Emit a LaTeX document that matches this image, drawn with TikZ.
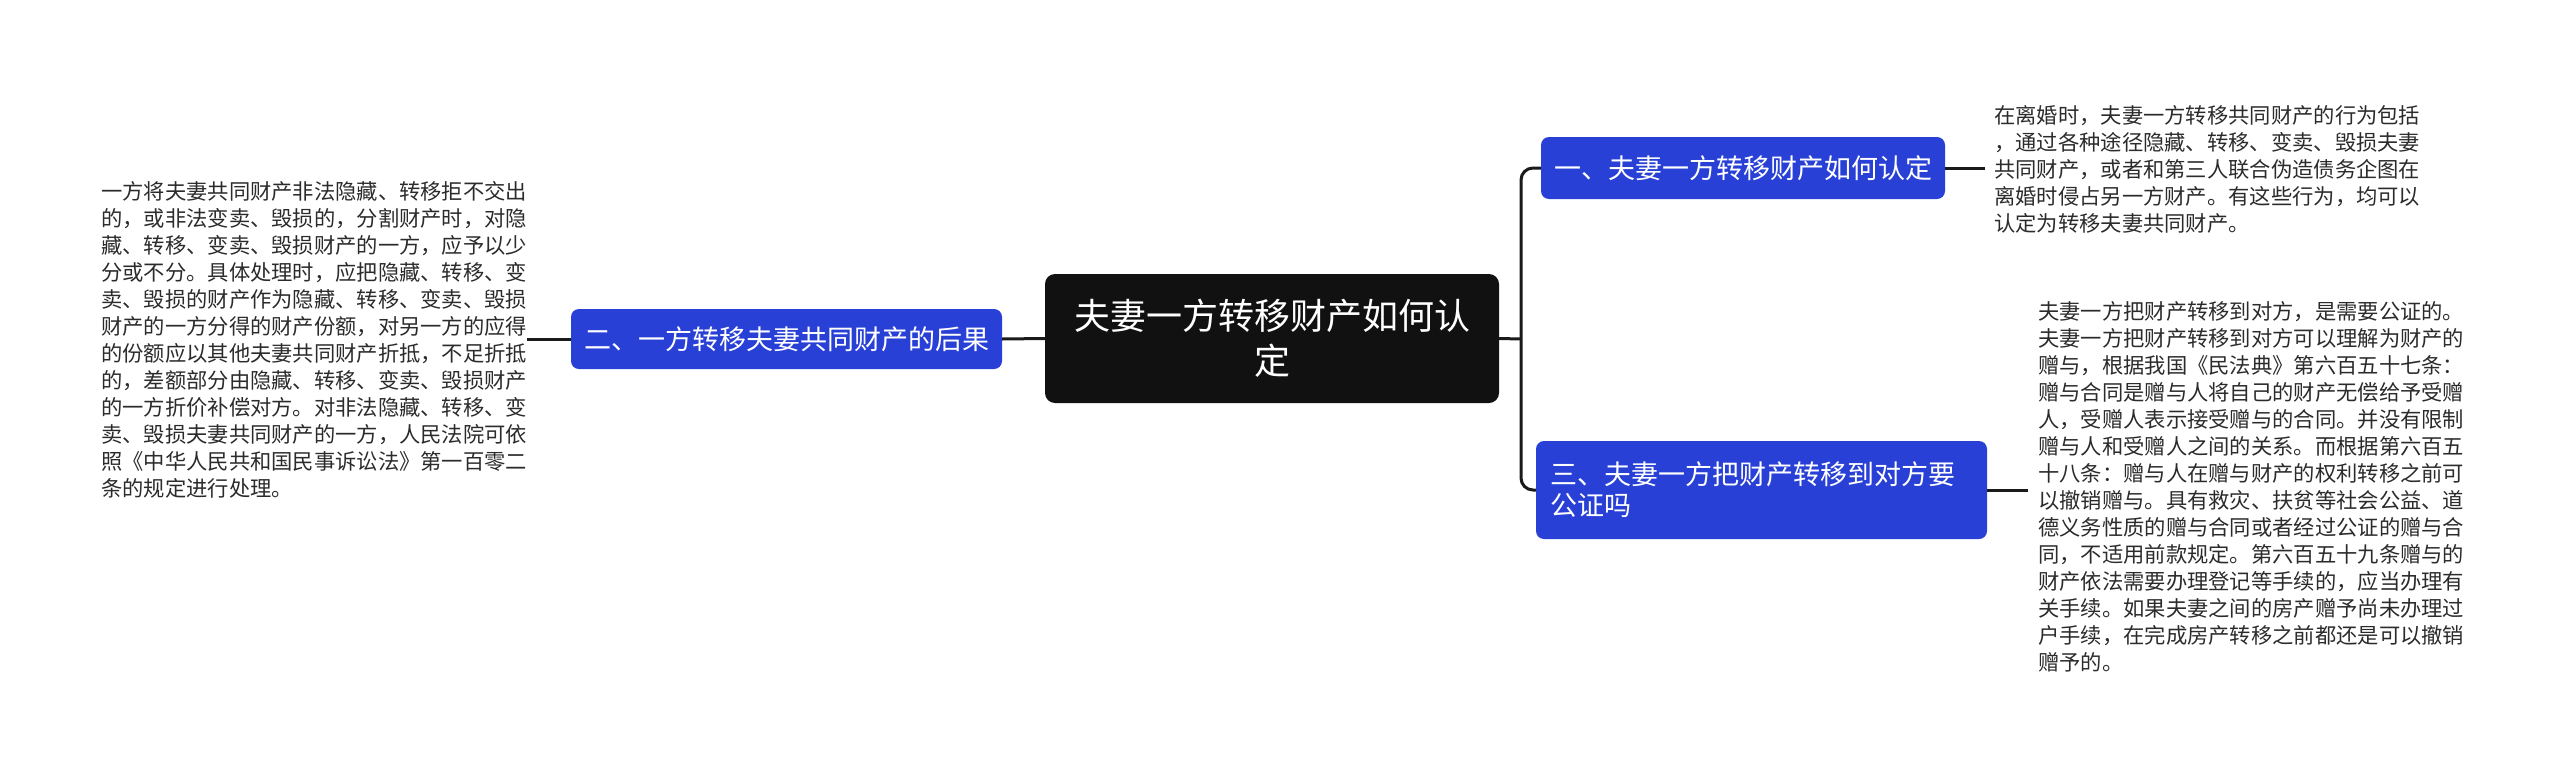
\documentclass[tikz,border=0pt]{standalone}
\usepackage{fontspec}
\newfontfamily\cjk{Noto Sans CJK SC}
\definecolor{blueN}{HTML}{2840D6}
\definecolor{darkN}{HTML}{111111}
\definecolor{txt}{HTML}{2B2B2B}
\definecolor{lineC}{HTML}{1A1A1A}
\begin{document}
\begin{tikzpicture}[x=1pt,y=-1pt,
  central/.style={draw=none,fill=darkN,rounded corners=10pt,text=white,
    font=\cjk\fontsize{36}{45}\selectfont,align=center,
    minimum width=454pt,minimum height=129pt,inner sep=0pt},
  branch/.style={draw=none,fill=blueN,rounded corners=8pt,text=white,
    font=\cjk\fontsize{27}{31}\selectfont,inner xsep=13pt,inner ysep=0pt},
  detail/.style={text=txt,font=\cjk\fontsize{21.3}{27}\selectfont,
    align=left,inner sep=0pt,anchor=west},
  conn/.style={draw=lineC,line width=3pt}]
\useasboundingbox (0,0) rectangle (2560,782);

\node[central] (c) at (1272,338.5) {夫妻一方转移财产如何认\\定};

\node[branch,minimum width=431pt,minimum height=60pt] (b2) at (786.5,339)
  {二、一方转移夫妻共同财产的后果};
\node[branch,minimum width=404pt,minimum height=62pt] (b1) at (1743,168)
  {一、夫妻一方转移财产如何认定};
\node[branch,minimum width=451pt,minimum height=98pt,text width=423pt,
  align=left,inner xsep=14pt] (b3) at (1761.5,490)
  {三、夫妻一方把财产转移到对方要\\公证吗};

\node[detail] (t2) at (101,340) {一方将夫妻共同财产非法隐藏、转移拒不交出\\
的，或非法变卖、毁损的，分割财产时，对隐\\
藏、转移、变卖、毁损财产的一方，应予以少\\
分或不分。具体处理时，应把隐藏、转移、变\\
卖、毁损的财产作为隐藏、转移、变卖、毁损\\
财产的一方分得的财产份额，对另一方的应得\\
的份额应以其他夫妻共同财产折抵，不足折抵\\
的，差额部分由隐藏、转移、变卖、毁损财产\\
的一方折价补偿对方。对非法隐藏、转移、变\\
卖、毁损夫妻共同财产的一方，人民法院可依\\
照《中华人民共和国民事诉讼法》第一百零二\\
条的规定进行处理。};

\node[detail] (t1) at (1994,169) {在离婚时，夫妻一方转移共同财产的行为包括\\
，通过各种途径隐藏、转移、变卖、毁损夫妻\\
共同财产，或者和第三人联合伪造债务企图在\\
离婚时侵占另一方财产。有这些行为，均可以\\
认定为转移夫妻共同财产。};

\node[detail] (t3) at (2038,487) {夫妻一方把财产转移到对方，是需要公证的。\\
夫妻一方把财产转移到对方可以理解为财产的\\
赠与，根据我国《民法典》第六百五十七条：\\
赠与合同是赠与人将自己的财产无偿给予受赠\\
人，受赠人表示接受赠与的合同。并没有限制\\
赠与人和受赠人之间的关系。而根据第六百五\\
十八条：赠与人在赠与财产的权利转移之前可\\
以撤销赠与。具有救灾、扶贫等社会公益、道\\
德义务性质的赠与合同或者经过公证的赠与合\\
同，不适用前款规定。第六百五十九条赠与的\\
财产依法需要办理登记等手续的，应当办理有\\
关手续。如果夫妻之间的房产赠予尚未办理过\\
户手续，在完成房产转移之前都还是可以撤销\\
赠予的。};

\coordinate (fork) at (1521,339);
\draw[conn] (c.west) -- (b2.east);
\draw[conn] (b2.west) -- (t2.east |- b2.west);
\draw[conn] (c.east) -- (fork);
\draw[conn,rounded corners=12pt] (fork) |- (b1.west);
\draw[conn,rounded corners=12pt] (fork) |- (b3.west);
\draw[conn] (b1.east) -- ++(40,0) coordinate (e1);
\draw[conn] (b3.east) -- ++(41,0) coordinate (e3);
\end{tikzpicture}
\end{document}
